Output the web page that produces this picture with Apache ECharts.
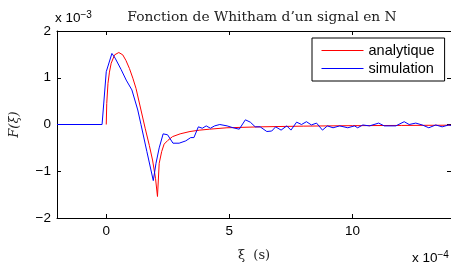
<!DOCTYPE html>
<html>
<head>
<meta charset="utf-8">
<script src="https://cdn.jsdelivr.net/npm/echarts@6/dist/echarts.min.js"></script>
<style>
html, body { margin: 0; padding: 0; background: #fff; }
#chart { width: 451px; height: 267px; }
</style>
</head>
<body>
<div id="chart"></div>
<script>
// xi en unites de 1e-4 s, F en unites de 1e-3
var simX = [-2, -0.17, 0, 0.23, 0.36, 0.6, 0.81, 1.04, 1.28, 1.41, 1.65, 1.91, 2.02, 2.15, 2.31, 2.49, 2.71, 2.96, 3.23, 3.43, 3.56, 3.74, 3.9, 4.06, 4.23, 4.4, 4.61, 4.91, 5.15, 5.4, 5.65, 5.85, 6.05, 6.25, 6.52, 6.72, 6.88, 7.1, 7.33, 7.5, 7.73, 7.93, 8.13, 8.33, 8.54, 8.78, 8.98, 9.21, 9.48, 9.81, 10.08, 10.21, 10.42, 10.69, 11.06, 11.29, 11.76, 12.1, 12.3, 12.57, 12.83, 13.1, 13.38, 13.64, 13.91, 14];
var simY = [0, 0, 1.13, 1.52, 1.42, 1.18, 0.95, 0.74, 0.31, 0, -0.58, -1.2, -0.83, -0.5, -0.2, -0.22, -0.4, -0.4, -0.35, -0.28, -0.28, -0.05, -0.08, -0.03, -0.08, -0.03, 0, -0.03, -0.07, -0.1, 0.1, 0.05, -0.05, -0.05, -0.15, -0.14, -0.05, -0.12, -0.03, -0.12, 0.05, 0, 0.06, -0.01, 0.03, -0.12, -0.03, -0.07, -0.03, -0.07, -0.03, -0.07, -0.01, -0.03, 0.03, -0.03, -0.03, 0.06, 0, 0.03, -0.01, -0.07, -0.01, -0.05, -0.01, -0.02];

var anaX = [0, 0.02, 0.07, 0.13, 0.2, 0.34, 0.51, 0.67, 0.8, 0.94, 1.08, 1.21, 1.41, 1.58, 1.75, 1.88, 2.0, 2.08, 2.15, 2.25, 2.35, 2.5, 2.69, 3.0, 3.4, 3.8, 4.2, 4.9, 6.25, 8, 10, 12, 14];
var anaY = [0, 0.45, 0.88, 1.12, 1.31, 1.49, 1.54, 1.49, 1.37, 1.2, 0.99, 0.77, 0.31, -0.08, -0.45, -0.76, -1.15, -1.54, -0.83, -0.58, -0.42, -0.34, -0.26, -0.2, -0.15, -0.12, -0.1, -0.07, -0.05, -0.035, -0.025, -0.02, -0.015];

var xTicks = [0, 5, 10];

var sansFont = '"Liberation Sans", Arial, sans-serif';
var serifFont = '"DejaVu Serif", "Liberation Serif", serif';

var pairs = function(xs, ys) {
	var out = [];
	for (var i = 0; i < xs.length; i++) out.push([xs[i], ys[i]]);
	return out;
};

var axisLine = { show: true, onZero: false, lineStyle: { color: '#000', width: 1 } };
var tick = { show: true, inside: true, length: 4, lineStyle: { color: '#000', width: 1 } };

var chart = echarts.init(document.getElementById('chart'), null, { renderer: 'canvas' });
chart.setOption({
	animation: false,
	backgroundColor: '#fff',
	title: {
		text: 'Fonction de Whitham d\u2019un signal en N',
		left: 257,
		textAlign: 'center',
		top: 5,
		textStyle: { fontFamily: serifFont, fontWeight: 'normal', fontSize: 13.8, color: '#222' }
	},
	grid: { left: 55, top: 31, width: 397, height: 187 },
	legend: {
		orient: 'vertical',
		left: 312,
		top: 38,
		padding: [5, 10, 5, 9],
		itemWidth: 42,
		itemHeight: 14,
		itemGap: 3,
		borderColor: '#000',
		borderWidth: 1,
		backgroundColor: '#fff',
		itemStyle: { opacity: 0 },
		lineStyle: { width: 1 },
		textStyle: { fontFamily: sansFont, fontSize: 14.5, color: '#000' },
		data: ['analytique', 'simulation']
	},
	xAxis: [{
		type: 'value', min: -2, max: 14, position: 'bottom',
		axisLine: axisLine,
		axisTick: Object.assign({ customValues: xTicks }, tick),
		axisLabel: { customValues: xTicks, margin: 6, fontFamily: sansFont, fontSize: 13.5, color: '#000' },
		splitLine: { show: false },
		name: '\u03be  (s)', nameLocation: 'middle', nameGap: 31,
		nameTextStyle: { fontFamily: serifFont, fontSize: 13, color: '#222' }
	}, {
		type: 'value', min: -2, max: 14, position: 'top',
		axisLine: axisLine,
		axisTick: Object.assign({ customValues: xTicks }, tick),
		axisLabel: { show: false },
		splitLine: { show: false }
	}],
	yAxis: [{
		type: 'value', min: -2, max: 2, interval: 1, position: 'left',
		axisLine: axisLine,
		axisTick: tick,
		axisLabel: {
			margin: 6, fontFamily: sansFont, fontSize: 13.5, color: '#000',
			formatter: function(v) { return v < 0 ? '\u2212' + (-v) : String(v); }
		},
		splitLine: { show: false },
		name: 'F(\u03be)', nameLocation: 'middle', nameGap: 36, nameRotate: 90,
		nameTextStyle: { fontFamily: serifFont, fontStyle: 'italic', fontSize: 13, color: '#222' }
	}, {
		type: 'value', min: -2, max: 2, interval: 1, position: 'right',
		axisLine: axisLine,
		axisTick: tick,
		axisLabel: { show: false },
		splitLine: { show: false }
	}],
	graphic: [{
		type: 'text', left: 55, top: 10,
		style: {
			text: 'x 10{s|\u22123}',
			rich: { s: { fontSize: 10, verticalAlign: 'top', padding: [0, 0, 6, 0], fontFamily: sansFont } },
			font: '13.5px ' + sansFont, fill: '#000'
		}
	}, {
		type: 'text', left: 412, top: 250,
		style: {
			text: 'x 10{s|\u22124}',
			rich: { s: { fontSize: 10, verticalAlign: 'top', padding: [0, 0, 6, 0], fontFamily: sansFont } },
			font: '13.5px ' + sansFont, fill: '#000'
		}
	}],
	series: [{
		name: 'analytique', type: 'line', symbol: 'none',
		lineStyle: { color: '#ff0000', width: 1 }, itemStyle: { color: '#ff0000' },
		data: pairs(anaX, anaY)
	}, {
		name: 'simulation', type: 'line', symbol: 'none',
		lineStyle: { color: '#0000ff', width: 1 }, itemStyle: { color: '#0000ff' },
		data: pairs(simX, simY)
	}]
});
</script>
</body>
</html>
